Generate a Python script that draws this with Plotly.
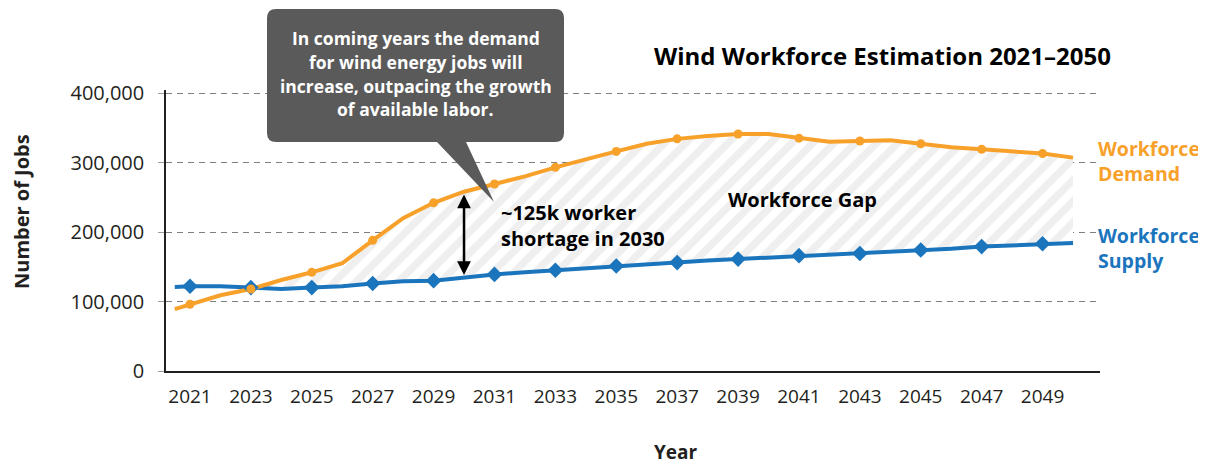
import plotly.graph_objects as go

# ---------------- data ----------------
years = [2020.5] + list(range(2021, 2051))
demand = [89000, 96000, 109000, 118000, 131000, 142000, 155000, 188000, 220000, 242000,
          258000, 269000, 280000, 293000, 305000, 316000, 327000, 334000, 338000, 341000,
          341000, 335000, 330000, 331000, 332000, 327000, 322000, 319000, 316000, 313000,
          307000]
supply = [121000, 122000, 122000, 120000, 118000, 120000, 122000, 126000, 129000, 130000,
          135000, 139000, 142000, 145000, 148000, 151000, 154000, 156000, 159000, 161000,
          163000, 166000, 167000, 169000, 171000, 174000, 176000, 179000, 181000, 183000,
          184000]
tick_years = list(range(2021, 2050, 2))
y_ticks = [0, 100000, 200000, 300000, 400000]
y_tick_text = ["0", "100,000", "200,000", "300,000", "400,000"]
gap_start = 2023
arrow_year = 2030

title_text = "Wind Workforce Estimation 2021\u20132050"
callout_lines = ["In coming years the demand", "for wind energy jobs will",
                 "increase, outpacing the growth", "of available labor."]

ORANGE = "#F7A12B"
BLUE = "#1B75BC"
DARK = "#231F20"
BOX = "#5A5A5A"
FONT = "Open Sans"

# plot-area geometry in reference pixels; page adds an 8px body offset
OFF = 8
L, R, T, B = 166, 1100, 90, 371
PX_PER_100K = 69.5
W, H = R - L, B - T
y_top = (B - T) / PX_PER_100K * 100000
def px(x):
    return (x - L) / W
def py(y):
    return (B - y) / H

fig = go.Figure()

# hatched gap area
gx = [x for x in years if x >= gap_start]
gs = [s for x, s in zip(years, supply) if x >= gap_start]
gd = [d for x, d in zip(years, demand) if x >= gap_start]
fig.add_trace(go.Scatter(x=gx, y=gs, mode="lines", line=dict(width=0, color="rgba(0,0,0,0)"),
                         hoverinfo="skip", showlegend=False))
fig.add_trace(go.Scatter(x=gx, y=gd, mode="lines", line=dict(width=0, color="rgba(0,0,0,0)"),
                         fill="tonexty", fillcolor="white",
                         fillpattern=dict(shape="/", fgcolor="#DFDFDF", bgcolor="white",
                                          size=15, solidity=0.5),
                         hoverinfo="skip", showlegend=False))

# lines
fig.add_trace(go.Scatter(x=years, y=supply, mode="lines", line=dict(color=BLUE, width=4),
                         showlegend=False))
fig.add_trace(go.Scatter(x=years, y=demand, mode="lines", line=dict(color=ORANGE, width=4),
                         showlegend=False))
# markers at odd years
mx = [x for x in years if x in tick_years]
fig.add_trace(go.Scatter(x=mx, y=[s for x, s in zip(years, supply) if x in tick_years],
                         mode="markers", marker=dict(symbol="diamond", size=12, color=BLUE),
                         showlegend=False))
fig.add_trace(go.Scatter(x=mx, y=[d for x, d in zip(years, demand) if x in tick_years],
                         mode="markers", marker=dict(symbol="circle", size=9, color=ORANGE),
                         showlegend=False))

# callout box with pointer
r = 9
bl, br, bt, bb = 267, 564, 9, 142
path = (f"M {px(bl+r)},{py(bt)} L {px(br-r)},{py(bt)} Q {px(br)},{py(bt)} {px(br)},{py(bt+r)} "
        f"L {px(br)},{py(bb-r)} Q {px(br)},{py(bb)} {px(br-r)},{py(bb)} "
        f"L {px(466)},{py(bb)} L {px(494)},{py(202)} L {px(437)},{py(bb)} "
        f"L {px(bl+r)},{py(bb)} Q {px(bl)},{py(bb)} {px(bl)},{py(bb-r)} "
        f"L {px(bl)},{py(bt+r)} Q {px(bl)},{py(bt)} {px(bl+r)},{py(bt)} Z")
fig.add_shape(type="path", path=path, xref="paper", yref="paper",
              fillcolor=BOX, line=dict(width=0), layer="above")

annotations = []
line_y = [38, 62, 86, 109]
for t, yy in zip(callout_lines, line_y):
    annotations.append(dict(text=t, x=px((bl + br) / 2), y=py(yy), xref="paper", yref="paper",
                            showarrow=False, xanchor="center", yanchor="middle",
                            font=dict(family=FONT, size=17.5, color="white", weight="bold")))

# double arrow
ai = years.index(arrow_year)
annotations.append(dict(x=arrow_year, y=supply[ai] + 3000, ax=arrow_year, ay=demand[ai] - 2000,
                        xref="x", yref="y", axref="x", ayref="y", text="", showarrow=True,
                        arrowhead=2, startarrowhead=2, arrowside="end+start",
                        arrowsize=1.1, startarrowsize=1.1, arrowwidth=2.5, arrowcolor="black",
                        standoff=0, startstandoff=0))

annotations += [
    dict(text="~125k worker<br>shortage in 2030", x=px(499), y=py(225), xref="paper", yref="paper",
         showarrow=False, xanchor="left", yanchor="middle", align="left",
         font=dict(family=FONT, size=20, color="black", weight="bold")),
    dict(text="Workforce Gap", x=px(802), y=py(199), xref="paper", yref="paper",
         showarrow=False, xanchor="center", yanchor="middle",
         font=dict(family=FONT, size=20, color="black", weight="bold")),
    dict(text="Workforce<br>Demand", x=px(1096), y=py(161), xref="paper", yref="paper",
         showarrow=False, xanchor="left", yanchor="middle", align="left",
         font=dict(family=FONT, size=19.5, color=ORANGE, weight="bold")),
    dict(text="Workforce<br>Supply", x=px(1096), y=py(248), xref="paper", yref="paper",
         showarrow=False, xanchor="left", yanchor="middle", align="left",
         font=dict(family=FONT, size=19.5, color=BLUE, weight="bold")),
    dict(text=title_text, x=px(882), y=py(55), xref="paper", yref="paper",
         showarrow=False, xanchor="center", yanchor="middle",
         font=dict(family=FONT, size=24, color="black", weight="bold")),
    dict(text="Number of Jobs", x=px(21), y=py(212), xref="paper", yref="paper",
         showarrow=False, xanchor="center", yanchor="middle", textangle=-90,
         font=dict(family=FONT, size=20, color=DARK, weight="bold")),
    dict(text="Year", x=px(676), y=py(452), xref="paper", yref="paper",
         showarrow=False, xanchor="center", yanchor="middle",
         font=dict(family=FONT, size=19, color=DARK, weight="bold")),
]

x0 = 2021 - (190 - L) / 30.45
x1 = 2050 + (R - 1073) / 30.45

fig.update_layout(
    width=1206 - OFF, height=465 - OFF,
    margin=dict(l=L - OFF, r=1206 - R, t=T - OFF, b=465 - B, pad=0),
    paper_bgcolor="white", plot_bgcolor="white",
    showlegend=False,
    annotations=annotations,
    font=dict(family=FONT, color=DARK),
    xaxis=dict(range=[x0, x1], tickmode="array", tickvals=tick_years,
               ticktext=[str(y) for y in tick_years], showgrid=False, zeroline=False,
               showline=True, linecolor=DARK, linewidth=1.5, ticks="",
               tickfont=dict(family=FONT, size=19, color=DARK), ticklabelstandoff=7),
    yaxis=dict(range=[0, y_top], tickmode="array", tickvals=y_ticks, ticktext=y_tick_text,
               showgrid=True, gridcolor="#7F7F7F", griddash="6px,5px", gridwidth=1,
               zeroline=False, showline=True, linecolor=DARK, linewidth=1.5,
               ticks="outside", ticklen=6, tickcolor="#9A9A9A", tickwidth=1,
               tickfont=dict(family=FONT, size=20, color=DARK), ticklabelstandoff=10),
)

fig.write_html("out.html")
